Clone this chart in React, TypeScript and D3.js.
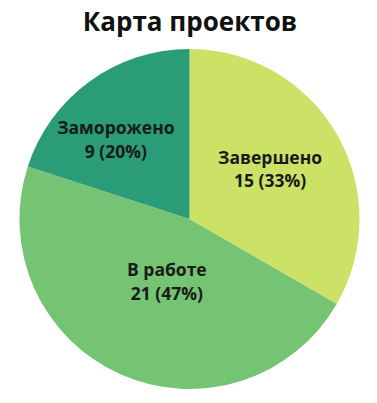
import React from "react";
import * as d3 from "d3";

const categories = ["Завершено", "В работе", "Заморожено"];
const values = [15, 21, 9];
const colors = ["#cce266", "#74c474", "#2a9c78"];
// label placement: [radius fraction of pie radius, angle offset in degrees from slice mid-angle]
const labelRadius = [0.555, 0.395, 0.635];
const labelAngleShift = [-1.3, -4.3, -7];

const W = 377;
const H = 403;
const cx = 189.5;
const cy = 219;
const R = 170;

export default function App() {
  const total = d3.sum(values);
  const pie = d3.pie<number>().sort(null).value((d) => d);
  const arcs = pie(values);
  const arc = d3.arc<d3.PieArcDatum<number>>().innerRadius(0).outerRadius(R);
  const font = "'Open Sans', 'Noto Sans', sans-serif";
  return (
    <svg width={W} height={H} style={{ position: "absolute", left: 0, top: 0 }}>
      <rect width={W} height={H} fill="#fff" />
      <text x={190} y={31} textAnchor="middle" fontFamily={font} fontWeight={700} fontSize={26} fill="#111">
        Карта проектов
      </text>
      <g transform={`translate(${cx},${cy})`}>
        {arcs.map((a, i) => (
          <path key={i} d={arc(a) || ""} fill={colors[i]} />
        ))}
        {arcs.map((a, i) => {
          const mid = (a.startAngle + a.endAngle) / 2 + (labelAngleShift[i] * Math.PI) / 180;
          const r = R * labelRadius[i];
          const x = Math.sin(mid) * r;
          const y = -Math.cos(mid) * r;
          const pct = Math.round((values[i] / total) * 100);
          return (
            <text key={i} x={x} y={y} textAnchor="middle" fontFamily={font} fontWeight={700} fontSize={17.5} fill="#1a1a1a">
              <tspan x={x} dy={-6}>{categories[i]}</tspan>
              <tspan x={x} dy={23.5}>{`${values[i]} (${pct}%)`}</tspan>
            </text>
          );
        })}
      </g>
    </svg>
  );
}
